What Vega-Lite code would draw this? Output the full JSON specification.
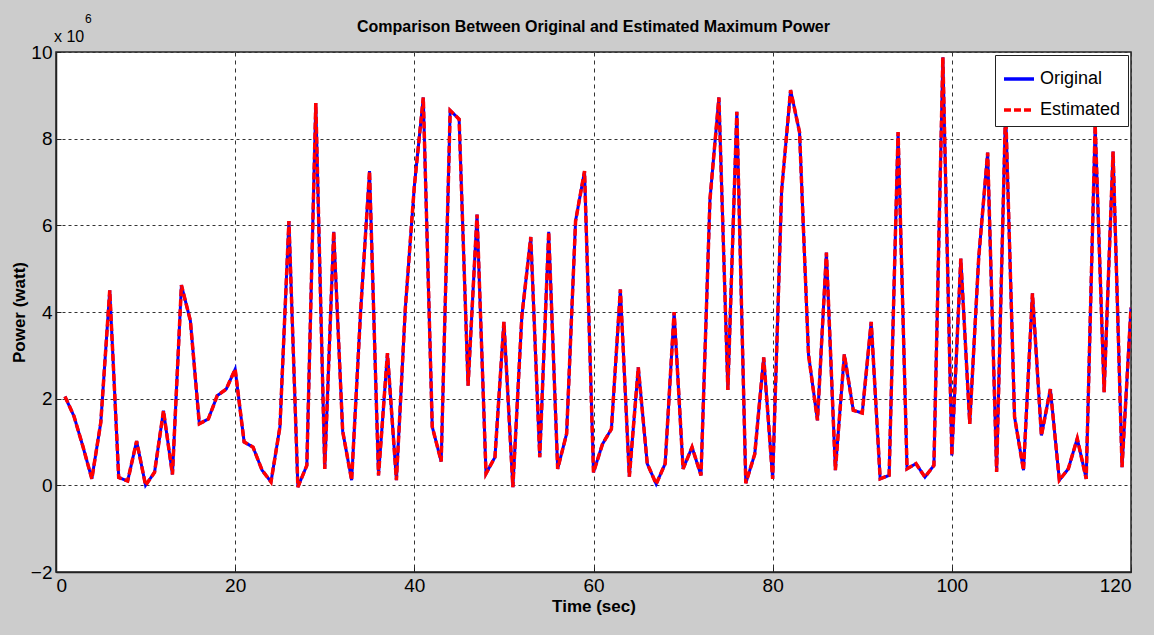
{
  "$schema": "https://vega.github.io/schema/vega-lite/v6.json",
  "width": 1075,
  "height": 520,
  "autosize": {"type": "none"},
  "padding": {"left": 56, "top": 52, "right": 23, "bottom": 63},
  "background": "#cccccc",
  "title": {
    "text": "Comparison Between Original and Estimated Maximum Power",
    "font": "Liberation Sans, Arial",
    "fontSize": 16,
    "fontWeight": "bold",
    "color": "#000000",
    "anchor": "middle",
    "offset": 0,
    "dy": 22
  },
  "data": {
    "values": [
      {"t":1,"Original":2.05,"Estimated":2.05},{"t":2,"Original":1.6,"Estimated":1.6},{"t":3,"Original":0.9,"Estimated":0.9},{"t":4,"Original":0.15,"Estimated":0.15},{"t":5,"Original":1.45,"Estimated":1.45},
      {"t":6,"Original":4.5,"Estimated":4.5},{"t":7,"Original":0.18,"Estimated":0.18},{"t":8,"Original":0.1,"Estimated":0.1},{"t":9,"Original":1.02,"Estimated":1.02},{"t":10,"Original":0.0,"Estimated":0.0},
      {"t":11,"Original":0.3,"Estimated":0.3},{"t":12,"Original":1.72,"Estimated":1.72},{"t":13,"Original":0.25,"Estimated":0.25},{"t":14,"Original":4.62,"Estimated":4.62},{"t":15,"Original":3.8,"Estimated":3.8},
      {"t":16,"Original":1.42,"Estimated":1.42},{"t":17,"Original":1.53,"Estimated":1.53},{"t":18,"Original":2.07,"Estimated":2.07},{"t":19,"Original":2.22,"Estimated":2.22},{"t":20,"Original":2.68,"Estimated":2.68},
      {"t":21,"Original":1.0,"Estimated":1.0},{"t":22,"Original":0.88,"Estimated":0.88},{"t":23,"Original":0.35,"Estimated":0.35},{"t":24,"Original":0.08,"Estimated":0.08},{"t":25,"Original":1.35,"Estimated":1.35},
      {"t":26,"Original":6.1,"Estimated":6.1},{"t":27,"Original":-0.04,"Estimated":-0.04},{"t":28,"Original":0.46,"Estimated":0.46},{"t":29,"Original":8.82,"Estimated":8.82},{"t":30,"Original":0.38,"Estimated":0.38},
      {"t":31,"Original":5.85,"Estimated":5.85},{"t":32,"Original":1.25,"Estimated":1.25},{"t":33,"Original":0.12,"Estimated":0.12},{"t":34,"Original":4.0,"Estimated":4.0},{"t":35,"Original":7.25,"Estimated":7.25},
      {"t":36,"Original":0.23,"Estimated":0.23},{"t":37,"Original":3.05,"Estimated":3.05},{"t":38,"Original":0.12,"Estimated":0.12},{"t":39,"Original":4.1,"Estimated":4.1},{"t":40,"Original":6.9,"Estimated":6.9},
      {"t":41,"Original":8.95,"Estimated":8.95},{"t":42,"Original":1.35,"Estimated":1.35},{"t":43,"Original":0.55,"Estimated":0.55},{"t":44,"Original":8.65,"Estimated":8.65},{"t":45,"Original":8.45,"Estimated":8.45},
      {"t":46,"Original":2.3,"Estimated":2.3},{"t":47,"Original":6.25,"Estimated":6.25},{"t":48,"Original":0.27,"Estimated":0.27},{"t":49,"Original":0.65,"Estimated":0.65},{"t":50,"Original":3.77,"Estimated":3.77},
      {"t":51,"Original":-0.04,"Estimated":-0.04},{"t":52,"Original":3.9,"Estimated":3.9},{"t":53,"Original":5.73,"Estimated":5.73},{"t":54,"Original":0.65,"Estimated":0.65},{"t":55,"Original":5.85,"Estimated":5.85},
      {"t":56,"Original":0.38,"Estimated":0.38},{"t":57,"Original":1.19,"Estimated":1.19},{"t":58,"Original":6.1,"Estimated":6.1},{"t":59,"Original":7.25,"Estimated":7.25},{"t":60,"Original":0.3,"Estimated":0.3},
      {"t":61,"Original":0.95,"Estimated":0.95},{"t":62,"Original":1.3,"Estimated":1.3},{"t":63,"Original":4.52,"Estimated":4.52},{"t":64,"Original":0.2,"Estimated":0.2},{"t":65,"Original":2.72,"Estimated":2.72},
      {"t":66,"Original":0.5,"Estimated":0.5},{"t":67,"Original":0.03,"Estimated":0.03},{"t":68,"Original":0.5,"Estimated":0.5},{"t":69,"Original":4.0,"Estimated":4.0},{"t":70,"Original":0.38,"Estimated":0.38},
      {"t":71,"Original":0.88,"Estimated":0.88},{"t":72,"Original":0.23,"Estimated":0.23},{"t":73,"Original":6.6,"Estimated":6.6},{"t":74,"Original":8.95,"Estimated":8.95},{"t":75,"Original":2.2,"Estimated":2.2},
      {"t":76,"Original":8.62,"Estimated":8.62},{"t":77,"Original":0.05,"Estimated":0.05},{"t":78,"Original":0.72,"Estimated":0.72},{"t":79,"Original":2.95,"Estimated":2.95},{"t":80,"Original":0.15,"Estimated":0.15},
      {"t":81,"Original":6.8,"Estimated":6.8},{"t":82,"Original":9.12,"Estimated":9.12},{"t":83,"Original":8.15,"Estimated":8.15},{"t":84,"Original":3.02,"Estimated":3.02},{"t":85,"Original":1.5,"Estimated":1.5},
      {"t":86,"Original":5.37,"Estimated":5.37},{"t":87,"Original":0.35,"Estimated":0.35},{"t":88,"Original":3.02,"Estimated":3.02},{"t":89,"Original":1.73,"Estimated":1.73},{"t":90,"Original":1.67,"Estimated":1.67},
      {"t":91,"Original":3.77,"Estimated":3.77},{"t":92,"Original":0.15,"Estimated":0.15},{"t":93,"Original":0.23,"Estimated":0.23},{"t":94,"Original":8.15,"Estimated":8.15},{"t":95,"Original":0.38,"Estimated":0.38},
      {"t":96,"Original":0.5,"Estimated":0.5},{"t":97,"Original":0.19,"Estimated":0.19},{"t":98,"Original":0.46,"Estimated":0.46},{"t":99,"Original":9.88,"Estimated":9.88},{"t":100,"Original":0.69,"Estimated":0.69},
      {"t":101,"Original":5.23,"Estimated":5.23},{"t":102,"Original":1.42,"Estimated":1.42},{"t":103,"Original":5.25,"Estimated":5.25},{"t":104,"Original":7.68,"Estimated":7.68},{"t":105,"Original":0.31,"Estimated":0.31},
      {"t":106,"Original":8.7,"Estimated":8.7},{"t":107,"Original":1.58,"Estimated":1.58},{"t":108,"Original":0.35,"Estimated":0.35},{"t":109,"Original":4.43,"Estimated":4.43},{"t":110,"Original":1.15,"Estimated":1.15},
      {"t":111,"Original":2.22,"Estimated":2.22},{"t":112,"Original":0.12,"Estimated":0.12},{"t":113,"Original":0.38,"Estimated":0.38},{"t":114,"Original":1.08,"Estimated":1.08},{"t":115,"Original":0.15,"Estimated":0.15},
      {"t":116,"Original":8.31,"Estimated":8.31},{"t":117,"Original":2.15,"Estimated":2.15},{"t":118,"Original":7.7,"Estimated":7.7},{"t":119,"Original":0.42,"Estimated":0.42},{"t":120,"Original":4.1,"Estimated":4.1}
    ]
  },
  "transform": [{"fold": ["Original", "Estimated"], "as": ["series", "power"]}],
  "encoding": {
    "x": {
      "field": "t", "type": "quantitative",
      "scale": {"domain": [0, 120], "nice": false, "zero": false},
      "axis": {"title": "Time (sec)", "values": [0, 20, 40, 60, 80, 100, 120], "gridDash": [4, 4], "titlePadding": 3, "labelPadding": 9}
    },
    "y": {
      "field": "power", "type": "quantitative",
      "scale": {"domain": [-2, 10], "nice": false, "zero": false},
      "axis": {"title": "Power (watt)", "values": [-2, 0, 2, 4, 6, 8, 10], "gridDash": [3, 3], "titlePadding": 2, "labelPadding": 9}
    }
  },
  "layer": [
    {
      "transform": [{"filter": "datum.series === 'Original'"}],
      "mark": {"type": "line", "strokeWidth": 3, "clip": true},
      "encoding": {
        "color": {"field": "series", "type": "nominal", "scale": {"domain": ["Original", "Estimated"], "range": ["#0000ff", "#ff0000"]}, "legend": {"title": null}},
        "strokeDash": {"field": "series", "type": "nominal", "scale": {"domain": ["Original", "Estimated"], "range": [[1, 0], [7, 3]]}, "legend": {"title": null}}
      }
    },
    {
      "transform": [{"filter": "datum.series === 'Estimated'"}],
      "mark": {"type": "line", "strokeWidth": 3.5, "clip": true},
      "encoding": {
        "color": {"field": "series", "type": "nominal"},
        "strokeDash": {"field": "series", "type": "nominal"}
      }
    },
    {
      "data": {"values": [{"t": 0, "power": 10, "label": "x 10"}]},
      "mark": {"type": "text", "align": "left", "baseline": "alphabetic", "dx": -2, "dy": -10, "fontSize": 16, "font": "Liberation Sans, Arial", "color": "#000000"},
      "encoding": {"text": {"field": "label"}}
    },
    {
      "data": {"values": [{"t": 0, "power": 10, "label": "6"}]},
      "mark": {"type": "text", "align": "left", "baseline": "alphabetic", "dx": 29, "dy": -29, "fontSize": 12, "font": "Liberation Sans, Arial", "color": "#000000"},
      "encoding": {"text": {"field": "label"}}
    }
  ],
  "config": {
    "view": {"fill": "#ffffff", "stroke": "#222222", "strokeWidth": 1.5},
    "axis": {
      "labelFont": "Liberation Sans, Arial",
      "labelFontSize": 19,
      "labelColor": "#000000",
      "titleFont": "Liberation Sans, Arial",
      "titleFontSize": 17,
      "titleFontWeight": "bold",
      "titleColor": "#000000",
      "domainColor": "#222222",
      "domainWidth": 1.5,
      "tickColor": "#222222",
      "tickSize": -5,
      "grid": true,
      "gridColor": "#333333",
      "gridOpacity": 1,
      "gridWidth": 1
    },
    "legend": {
      "orient": "top-right",
      "offset": 3,
      "fillColor": "#ffffff",
      "strokeColor": "#222222",
      "padding": 7,
      "labelFont": "Liberation Sans, Arial",
      "labelFontSize": 18,
      "labelColor": "#000000",
      "symbolType": "stroke",
      "symbolSize": 900,
      "symbolStrokeWidth": 3.5,
      "rowPadding": 5,
      "labelOffset": 4
    }
  }
}
